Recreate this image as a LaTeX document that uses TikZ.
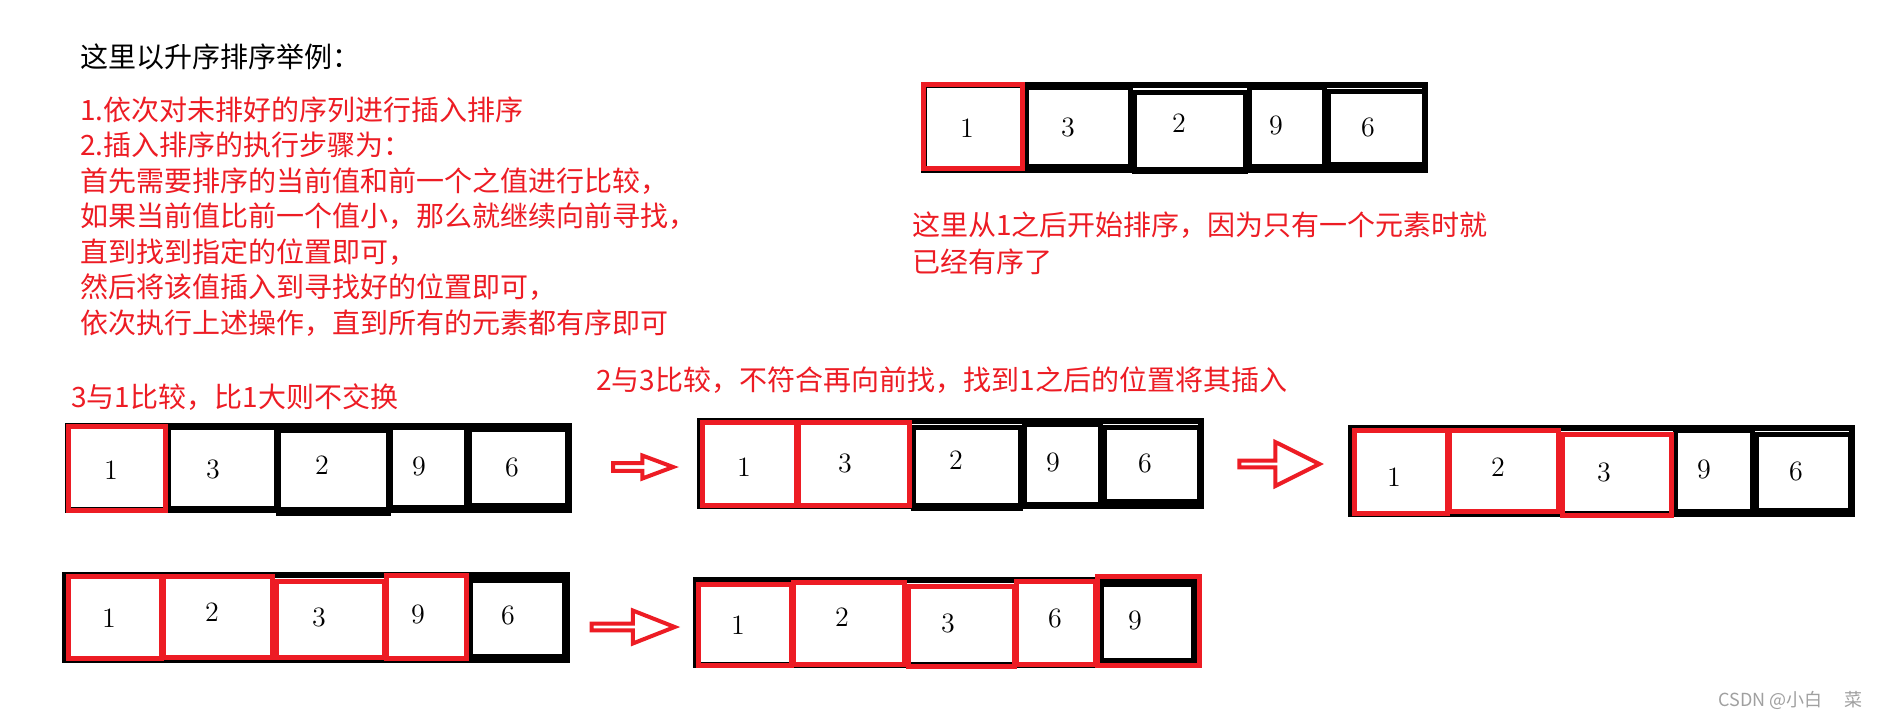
\documentclass[tikz,border=0pt]{standalone}
\usepackage{fontspec}
\newfontfamily\cjk{Noto Sans CJK SC}
\usetikzlibrary{shapes.arrows}
\definecolor{paintred}{RGB}{237,28,36}
\definecolor{wmgray}{RGB}{160,160,160}
\tikzset{
  rowframe/.style={draw=black,line width=3pt},
  cellbox/.style={draw=black,line width=2.5pt},
  donebox/.style={draw=paintred,line width=2.5pt},
  digit/.style={font=\fontsize{14}{16}\selectfont,inner sep=0pt},
  note/.style={font=\cjk\fontsize{14}{17.75}\selectfont,text=paintred,anchor=west,align=left,inner sep=0pt},
  hollow/.style={shape=single arrow,draw=paintred,line width=2pt,inner sep=0pt,single arrow head indent=0pt},
}

\begin{document}
\begin{tikzpicture}[x=0.5pt,y=-0.5pt]
\path[fill=white] (0,0) rectangle (1879,718);
\useasboundingbox (0,0) rectangle (1879,718);
% the explanation on the left
\node[note,text=black] (title) at (80,57) {这里以升序排序举例：};
\node[note] (steps) at (80,216.5) {1.依次对未排好的序列进行插入排序\\2.插入排序的执行步骤为：\\首先需要排序的当前值和前一个之值进行比较，\\如果当前值比前一个值小，那么就继续向前寻找，\\直到找到指定的位置即可，\\然后将该值插入到寻找好的位置即可，\\依次执行上述操作，直到所有的元素都有序即可};
% top row: 1 alone is already sorted
\draw[rowframe] (924,85) rectangle (1425,170);
\foreach \xa/\ya/\xb/\yb in {1026/87/1130/166,1134/92/1245/171,1249/87/1324/166,1328/91/1424/164}
  {\draw[cellbox] (\xa,\ya) rectangle (\xb,\yb);}
\draw[donebox] (923,84) rectangle (1022,168);
\foreach \x/\y/\v [count=\i] in {967/128/1,1068/127/3,1179/123/2,1276/125/9,1368/127/6}
  {\node[digit] (t\i) at (\x,\y) {\v};}
\node[note,font=\cjk\fontsize{14}{18.5}\selectfont] (start) at (912,243.5) {这里从1之后开始排序，因为只有一个元素时就\\已经有序了};
% second row, step 1
\node[note] (lab1) at (71,397) {3与1比较，比1大则不交换};
\draw[rowframe] (68,426) rectangle (569,510);
\foreach \xa/\ya/\xb/\yb in {168/427/276/508,278/430/388/513,390/427/466/507,469/429/567/505}
  {\draw[cellbox] (\xa,\ya) rectangle (\xb,\yb);}
\draw[donebox] (68,426) rectangle (165,510);
\foreach \x/\y/\v [count=\i] in {111/470/1,213/469/3,322/465/2,419/466/9,512/467/6}
  {\node[digit] (a\i) at (\x,\y) {\v};}
\node[hollow,minimum height=30pt,minimum width=11.5pt,single arrow head extend=2pt,single arrow tip angle=41] (arr1) at (638,467) {};
% second row, step 2
\node[note] (lab2) at (596,380) {2与3比较，不符合再向前找，找到1之后的位置将其插入};
\draw[rowframe] (700,421) rectangle (1201,506);
\foreach \xa/\ya/\xb/\yb in {913/427/1020/508,1024/424/1100/504,1104/427/1199/501}
  {\draw[cellbox] (\xa,\ya) rectangle (\xb,\yb);}
\foreach \xa/\ya/\xb/\yb in {702/422/796/505,798/422/909/505}
  {\draw[donebox] (\xa,\ya) rectangle (\xb,\yb);}
\foreach \x/\y/\v [count=\i] in {744/467/1,845/463/3,956/460/2,1053/462/9,1145/463/6}
  {\node[digit] (b\i) at (\x,\y) {\v};}
\node[hollow,minimum height=40pt,minimum width=22pt,single arrow head extend=5.5pt,single arrow tip angle=53] (arr2) at (1276,464) {};
% second row, step 3
\draw[rowframe] (1351,428) rectangle (1852,514);
\foreach \xa/\ya/\xb/\yb in {1675/430/1752/511,1756/434/1850/510}
  {\draw[cellbox] (\xa,\ya) rectangle (\xb,\yb);}
\foreach \xa/\ya/\xb/\yb in {1354/430/1447/513,1449/430/1558/511,1562/434/1671/515}
  {\draw[donebox] (\xa,\ya) rectangle (\xb,\yb);}
\foreach \x/\y/\v [count=\i] in {1394/477/1,1498/467/2,1604/472/3,1704/469/9,1796/471/6}
  {\node[digit] (c\i) at (\x,\y) {\v};}
% third row: 6 goes in before 9
\draw[rowframe] (65,575) rectangle (567,660);
\draw[cellbox] (470,580) rectangle (564,656);
\foreach \xa/\ya/\xb/\yb in {68/576/161/658,163/576/272/657,276/581/384/657,386/575/466/658}
  {\draw[donebox] (\xa,\ya) rectangle (\xb,\yb);}
\foreach \x/\y/\v [count=\i] in {109/618/1,212/612/2,319/617/3,418/614/9,508/615/6}
  {\node[digit] (d\i) at (\x,\y) {\v};}
\node[hollow,minimum height=41.5pt,minimum width=16.5pt,single arrow head extend=4pt,single arrow tip angle=43] (arr3) at (629,627) {};
\draw[rowframe] (696,580) rectangle (1198,665);
\draw[cellbox,line width=3pt] (1101,584) rectangle (1194,661);
\foreach \xa/\ya/\xb/\yb in {698/584/791/665,793/582/904/664,908/586/1014/666,1016/581/1095/664,1097/576/1199/665}
  {\draw[donebox] (\xa,\ya) rectangle (\xb,\yb);}
\foreach \x/\y/\v [count=\i] in {738/625/1,842/617/2,948/623/3,1055/618/6,1135/620/9}
  {\node[digit] (e\i) at (\x,\y) {\v};}
% watermark
\node[anchor=west,inner sep=0pt,font=\cjk\fontsize{9}{11}\selectfont,text=wmgray] (csdn) at (1718,700) {CSDN @小白\hspace{11pt}菜};
\end{tikzpicture}
\end{document}
